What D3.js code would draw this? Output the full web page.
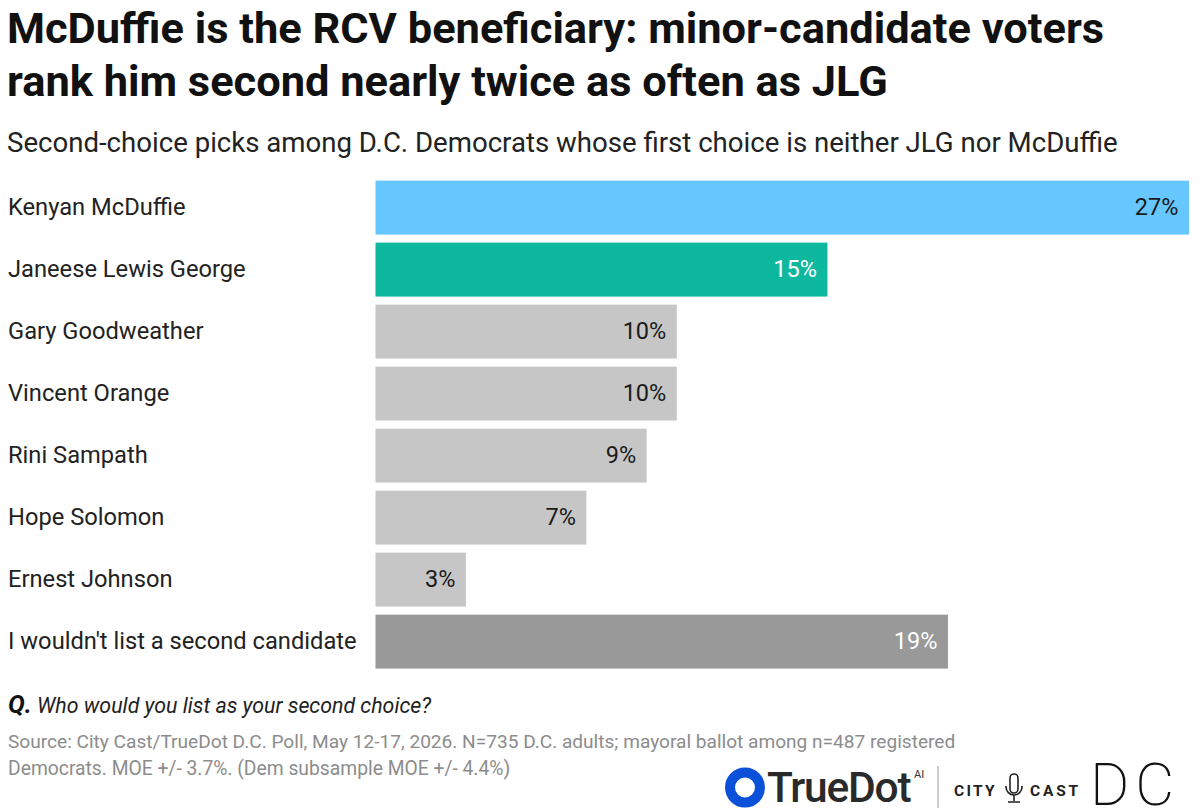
<!DOCTYPE html>
<html><head><meta charset="utf-8">
<script src="https://cdn.jsdelivr.net/npm/d3@7"></script>
<style>html,body{margin:0;padding:0;background:#fff}svg{display:block}text{font-family:Roboto,sans-serif}</style>
</head><body><div id="c"></div>
<script>
const categories=["Kenyan McDuffie","Janeese Lewis George","Gary Goodweather","Vincent Orange","Rini Sampath","Hope Solomon","Ernest Johnson","I wouldn't list a second candidate"];
const values=[27,15,10,10,9,7,3,19];
const barColors=["#66c7ff","#0db89f","#c6c6c6","#c6c6c6","#c6c6c6","#c6c6c6","#c6c6c6","#999999"];
const labelColors=["#1a1a1a","#fff","#1a1a1a","#1a1a1a","#1a1a1a","#1a1a1a","#1a1a1a","#fff"];
const svg=d3.select("#c").append("svg").attr("width",1200).attr("height",808);
const x=d3.scaleLinear().domain([0,27]).range([375.5,1189]);
const y=d3.scaleBand().domain(categories).range([176.6,672.6]).paddingInner(0.13).paddingOuter(0.065);
const t=(s,px,py,size,weight,fill,extra)=>{const e=svg.append("text").attr("x",px).attr("y",py).attr("font-size",size).attr("font-weight",weight).attr("fill",fill).text(s);if(extra)extra(e);return e;};
t("McDuffie is the RCV beneficiary: minor-candidate voters",7,43,43.4,700,"#111");
t("rank him second nearly twice as often as JLG",7,96,43.4,700,"#111");
t("Second-choice picks among D.C. Democrats whose first choice is neither JLG nor McDuffie",7,152,27.6,400,"#222");
svg.selectAll("rect.b").data(categories).join("rect").attr("class","b").attr("x",x(0)).attr("y",d=>y(d)).attr("height",y.bandwidth()).attr("width",(d,i)=>x(values[i])-x(0)).attr("fill",(d,i)=>barColors[i]);
svg.selectAll("text.c").data(categories).join("text").attr("class","c").attr("x",8).attr("y",d=>y(d)+y.bandwidth()/2+7.5).attr("font-size",23.7).attr("fill","#222").text(d=>d);
svg.selectAll("text.v").data(categories).join("text").attr("class","v").attr("x",(d,i)=>x(values[i])-10.5).attr("y",d=>y(d)+y.bandwidth()/2+7.5).attr("text-anchor","end").attr("font-size",23.5).attr("fill",(d,i)=>labelColors[i]).text((d,i)=>values[i]+"%");
t("Q.",8,713,25,700,"#111",e=>e.attr("font-style","italic"));
t("Who would you list as your second choice?",37,713,21.35,400,"#222",e=>e.attr("font-style","italic"));
t("Source: City Cast/TrueDot D.C. Poll, May 12-17, 2026. N=735 D.C. adults; mayoral ballot among n=487 registered",8,748,19.1,400,"#8c8c8c");
t("Democrats. MOE +/- 3.7%. (Dem subsample MOE +/- 4.4%)",8,775,19.3,400,"#8c8c8c");
svg.append("circle").attr("cx",745).attr("cy",787.5).attr("r",15).attr("fill","none").attr("stroke","#0a50d8").attr("stroke-width",10);
t("TrueDot",767,802,42.5,500,"#2a2a2a",e=>e.attr("letter-spacing",-1.2));
t("AI",914,778,11,400,"#333");
svg.append("line").attr("x1",938).attr("x2",938).attr("y1",766).attr("y2",808).attr("stroke","#999");
t("CITY",954,796,15.5,700,"#222",e=>e.attr("letter-spacing",2.3));
t("CAST",1030,796,15.5,700,"#222",e=>e.attr("letter-spacing",2.8));
svg.append("rect").attr("x",1010).attr("y",774).attr("width",8).attr("height",19).attr("rx",4).attr("fill","none").attr("stroke","#222").attr("stroke-width",1.6);
svg.append("path").attr("d","M1006 786v1a8 8 0 0 0 16 0v-1M1014 795v6M1008 802h12").attr("fill","none").attr("stroke","#222").attr("stroke-width",1.6);
t("DC",1090,805,60,200,"#111",e=>e.attr("letter-spacing",6));
</script></body></html>
